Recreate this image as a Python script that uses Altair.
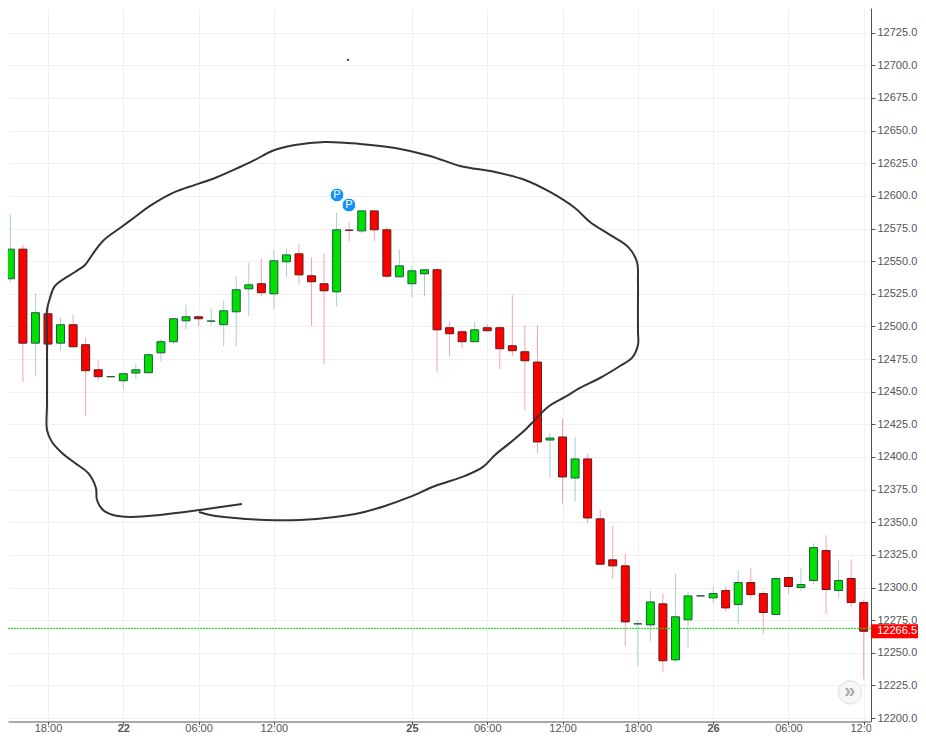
import altair as alt
import pandas as pd

idx = list(range(-4, 66))
body_top = [12590.8,12559.2,12559.2,12510.5,12509.7,12501.3,12501.3,12486.0,12466.8,12461.5,12463.8,12466.8,12478.3,12488.3,12505.9,12507.4,12507.4,12504.1,12512.0,12528.1,12531.9,12532.7,12550.3,12554.8,12555.6,12538.8,12532.7,12574.0,12573.7,12588.5,12588.5,12574.0,12546.4,12542.6,12543.4,12543.4,12499.0,12495.9,12497.4,12499.0,12499.0,12485.2,12480.6,12472.7,12414.5,12415.3,12398.5,12398.5,12352.6,12321.2,12316.6,12272.2,12289.0,12287.5,12277.6,12293.6,12293.6,12295.4,12297.7,12303.8,12303.8,12295.4,12306.9,12307.7,12302.3,12330.6,12328.3,12305.4,12306.9,12288.5]
body_bot = [12537.8,12536.5,12487.2,12487.2,12486.5,12487.2,12484.4,12466.1,12461.5,12461.5,12458.4,12464.3,12464.5,12479.8,12488.3,12504.3,12505.9,12504.1,12501.3,12511.2,12528.8,12525.8,12525.0,12549.5,12539.5,12534.2,12527.3,12526.5,12573.7,12573.2,12574.0,12538.5,12538.0,12532.7,12540.3,12497.4,12494.4,12488.3,12488.3,12496.7,12482.9,12481.4,12473.7,12411.5,12413.0,12384.7,12383.9,12353.3,12317.9,12316.6,12273.7,12272.2,12271.4,12243.9,12244.6,12275.3,12293.6,12292.1,12284.4,12287.0,12294.6,12280.9,12279.3,12300.8,12300.0,12305.4,12298.5,12297.7,12288.5,12266.5]
high = [12590.8,12585.7,12562.8,12525.3,12514.8,12506.9,12508.9,12491.6,12474.0,12461.5,12463.8,12471.7,12479.8,12490.6,12505.9,12516.8,12507.4,12513.8,12519.9,12538.3,12549.0,12552.0,12558.2,12559.7,12562.8,12552.6,12555.6,12587.0,12579.6,12589.3,12588.5,12575.8,12558.9,12546.4,12543.4,12544.9,12503.8,12497.4,12503.8,12501.5,12500.0,12523.7,12500.8,12500.8,12418.4,12429.1,12415.3,12402.3,12359.4,12347.2,12325.8,12275.3,12297.4,12295.2,12310.5,12296.7,12293.6,12301.0,12301.0,12313.3,12314.8,12297.2,12307.9,12307.7,12314.8,12333.9,12340.0,12320.9,12321.7,12290.8]
low = [12537.8,12533.9,12457.4,12462.0,12484.0,12481.6,12484.4,12431.4,12458.7,12461.5,12451.8,12460.2,12464.5,12473.2,12486.5,12497.7,12500.0,12500.8,12485.0,12485.0,12507.9,12523.0,12513.3,12537.8,12532.4,12500.3,12471.2,12515.6,12565.3,12571.4,12565.3,12537.0,12538.0,12522.4,12523.2,12465.0,12477.3,12483.4,12488.3,12496.7,12467.3,12477.3,12436.0,12402.8,12383.7,12364.5,12366.0,12349.2,12317.1,12306.4,12255.1,12239.8,12258.9,12235.2,12242.9,12253.6,12293.6,12288.0,12281.9,12271.9,12291.8,12264.3,12279.3,12294.9,12297.2,12302.6,12279.6,12291.8,12285.0,12229.8]
is_up = [0,1,0,1,0,1,0,0,0,1,1,1,1,1,1,1,0,1,1,1,1,0,1,1,0,0,0,1,0,1,0,0,1,1,1,0,0,0,1,0,0,0,0,0,1,0,1,0,0,0,0,1,1,0,1,1,1,1,0,1,0,0,1,0,1,1,0,1,0,0]

tick_idx = [0, 6, 12, 18, 29, 35, 41, 47, 53, 59, 65]
tick_txt = ["18:00", "22", "06:00", "12:00", "25", "06:00", "12:00", "18:00", "26", "06:00", "12:00"]
day_ticks = [6, 29, 53]
y_ticks = list(range(12200, 12751, 25))
last_price = 12266.5
price_level = 12268.7

pen_a_x = [15.46,12.11,8.92,6.53,5.18,4.38,3.90,3.82,3.19,2.15,1.12,0.32,-0.08,-0.08,-0.08,-0.08,-0.08,0.16,0.56,2.15,2.95,3.51,4.38,5.74,6.93,8.13,10.12,11.71,13.31,15.30,16.49,17.85,19.68,22.07,24.86,27.65,30.44,32.83,35.62,38.01,40.0,41.99,43.19,44.78,46.22,46.93,47.01,47.01,47.01,47.01,46.53,45.58,43.98,42.39,41.2,39.84,38.8,38.01,36.81,35.62,34.66,33.23,30.84,28.84,26.85,24.86,22.87,20.08,17.29,14.90,12.91,12.03]
pen_a_y = [12364.0,12359.4,12355.6,12354.1,12355.6,12359.4,12367.1,12376.3,12387.8,12395.4,12403.1,12411.5,12420.7,12440.0,12470.0,12500.0,12512.6,12521.8,12531.0,12541.7,12547.1,12554.7,12565.5,12575.4,12583.8,12592.3,12603.0,12608.4,12613.7,12622.1,12627.5,12634.4,12639.0,12641.3,12639.8,12636.7,12630.6,12622.9,12618.3,12612.2,12603.0,12590.7,12580.0,12570.1,12560.9,12549.4,12535.0,12515.0,12497.0,12485.8,12475.9,12469.7,12460.5,12452.9,12446.0,12438.3,12428.4,12420.7,12410.8,12401.6,12392.4,12385.5,12377.8,12369.4,12362.5,12357.1,12354.1,12351.8,12351.8,12353.3,12355.6,12357.9]
dot_x, dot_y = [23.9], [12704.1]
badge_x, badge_y = [23.03, 23.98], [12600.7, 12593.0]
btn_x, btn_y = [63.9], [12219.7]

RED, GREEN = "#ff0000", "#00e000"
df = pd.DataFrame({"i": idx, "top": body_top, "bot": body_bot, "high": high, "low": low, "up": is_up})
pen = pd.DataFrame({"x": pen_a_x, "y": pen_a_y, "s": range(len(pen_a_x))})

x_scale = alt.Scale(domain=[-3.187, 65.58], nice=False, zero=False, padding=0)
y_scale = alt.Scale(domain=[12197.4, 12743.9], nice=False, zero=False)
x_axis = alt.Axis(values=tick_idx, grid=True, gridColor="#f0f0f0", domainColor="#555555", tickColor="#555555",
    tickSize=3, labelColor="#555555", labelFontSize=11, labelFont="Liberation Sans", labelPadding=-2,
    labelFlush=False, labelOverlap=False, title=None,
    labelExpr="{" + ",".join(f"'{a}':'{b}'" for a, b in zip(tick_idx, tick_txt)) + "}[datum.value]",
    labelFontWeight={"condition": {"test": "indexof(%s, datum.value) >= 0" % day_ticks, "value": "bold"}, "value": "normal"})
y_axis = alt.Axis(orient="right", values=y_ticks, grid=True, gridColor="#f0f0f0", domainColor="#555555",
    tickColor="#555555", tickSize=4, labelColor="#555555", labelFontSize=11, labelFont="Liberation Sans",
    labelPadding=2, format=".1f", labelOverlap=False, title=None)


def X(f):
    return alt.X(f, axis=x_axis, scale=x_scale)


def Y(f):
    return alt.Y(f, axis=y_axis, scale=y_scale)


up = alt.datum.up == 1
wick = alt.Chart(df).mark_rule(strokeWidth=1, clip=True).encode(
    x=X("i:Q"), y=Y("high:Q"), y2="low:Q", color=alt.condition(up, alt.value("#a8ced2"), alt.value("#f7a3b1")))
body = alt.Chart(df).mark_bar(size=8, strokeWidth=1, clip=True, opacity=1).encode(
    x=X("i:Q"), y=Y("top:Q"), y2="bot:Q",
    color=alt.condition(up, alt.value(GREEN), alt.value(RED)),
    stroke=alt.condition(up, alt.value("#1c5c3e"), alt.value("#5e1a1a")))
price = pd.DataFrame({"p": [last_price], "q": [price_level], "t": ["%.1f" % last_price]})
price_line = alt.Chart(price).mark_rule(color="#00e600", strokeWidth=1, strokeDash=[2, 1]).encode(y=Y("q:Q"))
price_tag = alt.Chart(price).mark_rule(color="#ff0000", strokeWidth=14, clip=False).encode(
    x=alt.value(863), x2=alt.value(910), y=Y("p:Q"))
price_txt = alt.Chart(price).mark_text(color="white", font="Liberation Sans", fontSize=11, align="right", clip=False).encode(
    x=alt.value(909), y=Y("p:Q"), text="t:N")
pen_line = alt.Chart(pen).mark_line(color="#333333", strokeWidth=2, interpolate="catmull-rom", clip=True).encode(
    x=X("x:Q"), y=Y("y:Q"), order="s:Q")
dot = alt.Chart(pd.DataFrame({"x": dot_x, "y": dot_y})).mark_point(filled=True, color="#333333", size=5, opacity=1).encode(x=X("x:Q"), y=Y("y:Q"))
bdf = pd.DataFrame({"x": badge_x, "y": badge_y, "t": ["P", "P"]})
badges = alt.Chart(bdf).mark_circle(color="#1493f5", size=190, opacity=1, stroke="white", strokeWidth=1).encode(x=X("x:Q"), y=Y("y:Q"))
badge_t = alt.Chart(bdf).mark_text(color="white", font="Liberation Sans", fontSize=11).encode(x=X("x:Q"), y=Y("y:Q"), text="t:N")
bt = pd.DataFrame({"x": btn_x, "y": btn_y, "t": ["»"]})
btn = alt.Chart(bt).mark_circle(color="#f6f6f6", size=540, opacity=1, stroke="#dddddd", strokeWidth=1).encode(x=X("x:Q"), y=Y("y:Q"))
btn_t = alt.Chart(bt).mark_text(color="#aaaaaa", font="Liberation Sans", fontSize=20, fontWeight="bold", dy=-1).encode(x=X("x:Q"), y=Y("y:Q"), text="t:N")
cover = alt.Chart(price).mark_rule(color="white", strokeWidth=11, clip=False).encode(
    x=alt.value(863.5), x2=alt.value(885), y=alt.value(719.5))

chart = alt.layer(wick, body, price_line, pen_line, dot, badges, badge_t, btn, btn_t, price_tag, price_txt, cover).properties(
    width=863, height=713.5, background="white",
    padding={"left": 0, "top": 0, "right": 47, "bottom": 11.5},
    autosize=alt.AutoSizeParams(type="none"),
).configure_view(stroke=None)
chart.save("out.html", embed_options={"renderer": "svg", "actions": False})
